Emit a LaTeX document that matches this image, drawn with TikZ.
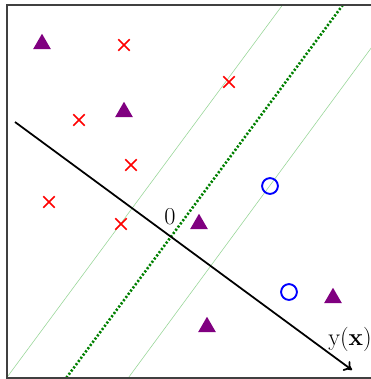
\documentclass[tikz,border=0pt]{standalone}
\usepackage{amsmath,amssymb}
\usetikzlibrary{shapes.geometric,shapes.misc,arrows.meta}

\definecolor{plum}{RGB}{128,0,128}
\definecolor{darkgreen}{RGB}{0,128,0}

\begin{document}
\begin{tikzpicture}[x=0.03cm,y=-0.03cm,
    tri/.style={regular polygon,regular polygon sides=3,fill=plum,
      inner sep=0pt,minimum size=17.5pt},
    crs/.style={cross out,draw=red,line width=1.3pt,inner sep=0pt,
      minimum size=8.5pt},
    ring/.style={circle,draw=blue,line width=1.6pt,inner sep=0pt,
      minimum size=13.5pt},
    margin/.style={green!60!black!40,line width=0.5pt},
    boundary/.style={darkgreen,line width=2.2pt,dash pattern=on 1.8pt off 1.6pt},
    frame/.style={black!75,line width=1.5pt},
    lbl/.style={font=\fontsize{21}{24}\selectfont,inner sep=0pt}]

  \useasboundingbox (0,0) rectangle (371,379);

  % --- separating line and margins ---
  \coordinate (mlbot) at (5,380);
  \coordinate (mltop) at (284,3);
  \coordinate (dbot) at (64,381);
  \coordinate (dtop) at (345,2);
  \coordinate (mrbot) at (126,381);
  \coordinate (mrtop) at (380,36);
  \begin{scope}
    \clip (7,5) rectangle (371,378);
    \draw[margin] (mlbot) -- (mltop);
    \draw[margin] (mrbot) -- (mrtop);
    \draw[boundary] (dbot) -- (dtop);
  \end{scope}

  % --- data points ---
  \foreach \x/\y [count=\i] in {42/44, 124/112, 199/224, 333/298, 207/327}
    \node[tri] (tri\i) at (\x,\y) {};
  \foreach \x/\y [count=\i] in {124/45, 229/82, 79/120, 131/165, 49/202, 121/224}
    \node[crs] (crs\i) at (\x,\y) {};
  \foreach \x/\y [count=\i] in {270/186, 289/292}
    \node[ring] (ring\i) at (\x,\y) {};

  % --- y(x) axis ---
  \coordinate (ystart) at (15,122);
  \coordinate (yend) at (352,370);
  \draw[line width=1.5pt,-{To[length=6.5pt,width=10pt]}] (ystart) -- (yend);
  \node[lbl] (zero) at (170,217) {\(0\)};
  \node[lbl] (ylab) at (350,339) {\(\mathrm{y}(\mathbf{x})\)};

  % --- frame ---
  \draw[frame] (372,5) -- (7,5) -- (7,378) -- (372,378);

\end{tikzpicture}
\end{document}
